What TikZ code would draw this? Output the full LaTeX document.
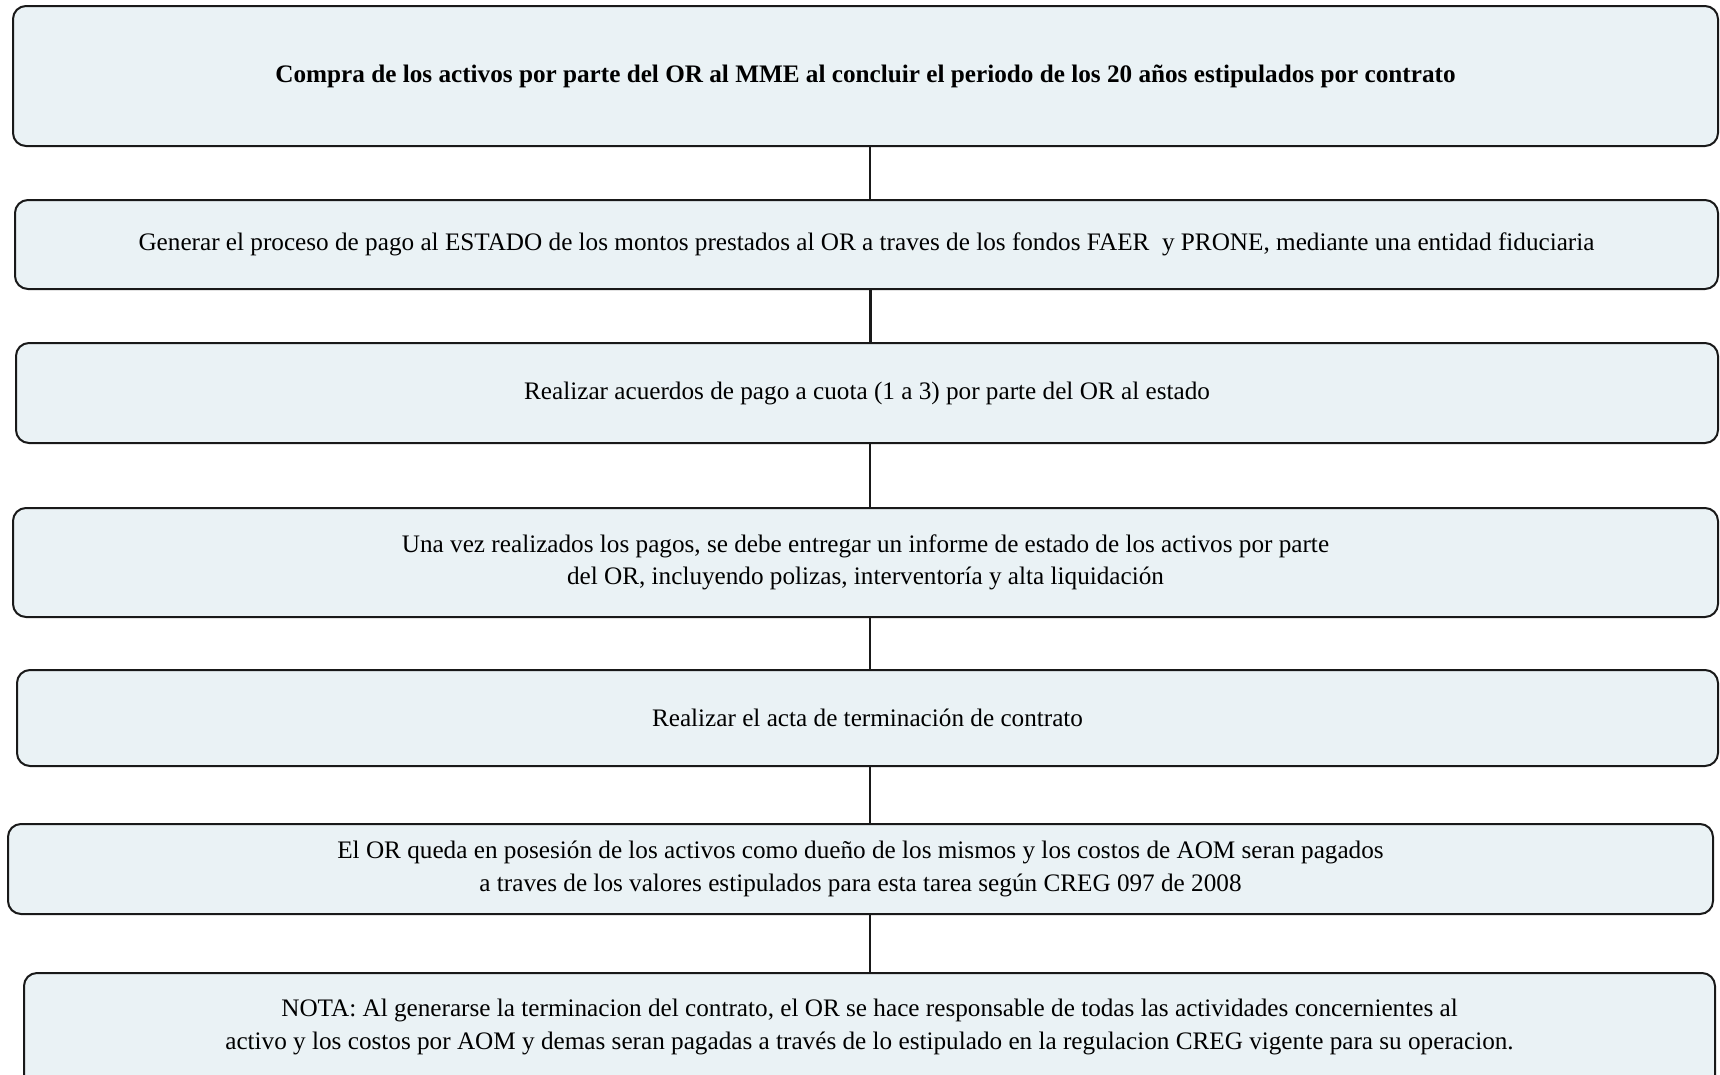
\documentclass[tikz,border=0pt]{standalone}
\usepackage{fontspec}
\setmainfont{Liberation Serif}
\definecolor{boxfill}{RGB}{234,242,245}
\definecolor{edge}{RGB}{25,25,25}
\begin{document}
\begin{tikzpicture}[x=1pt,y=-1pt,
  boxtext/.style={inner sep=0pt,align=center,font=\fontsize{25.2}{32.5}\selectfont},
  flowbox/.style={boxtext,draw=edge,fill=boxfill,line width=2pt,rounded corners=13pt},
  link/.style={draw=edge,line width=1.5pt}]
\clip (0,0) rectangle (1720,1074);
\fill[white] (0,0) rectangle (1720,1074);
\node[flowbox,minimum width=1705pt,minimum height=140pt] (b1) at (865.5,76)
  {\bfseries Compra de los activos por parte del OR al MME al concluir el periodo de los 20 años estipulados por contrato};
\node[flowbox,minimum width=1703pt,minimum height=89pt] (b2) at (866.5,244.5)
  {Generar el proceso de pago al ESTADO de los montos prestados al OR a traves de los fondos FAER\ \ y PRONE, mediante una entidad fiduciaria};
\node[flowbox,minimum width=1702pt,minimum height=100pt] (b3) at (867,393)
  {Realizar acuerdos de pago a cuota (1 a 3) por parte del OR al estado};
\node[flowbox,minimum width=1705pt,minimum height=109pt] (b4) at (865.5,562.5)
  {Una vez realizados los pagos, se debe entregar un informe de estado de los activos por parte\\del OR, incluyendo polizas, interventoría y alta liquidación};
\node[flowbox,minimum width=1701pt,minimum height=96pt] (b5) at (867.5,718)
  {Realizar el acta de terminación de contrato};
\node[flowbox,minimum width=1705pt,minimum height=90pt] (b6) at (860.5,869)
  {El OR queda en posesión de los activos como dueño de los mismos y los costos de AOM seran pagados\\a traves de los valores estipulados para esta tarea según CREG 097 de 2008};
\node[flowbox,minimum width=1691pt,minimum height=156pt] (b7) at (869.5,1051) {};
\node[boxtext] (t7) at (869.5,1027)
  {NOTA: Al generarse la terminacion del contrato, el OR se hace responsable de todas las actividades concernientes al\\activo y los costos por AOM y demas seran pagadas a través de lo estipulado en la regulacion CREG vigente para su operacion.};
\coordinate (cx) at (870,0);
\draw[link] (b1.south -| cx) -- (b2.north -| cx);
\draw[link,line width=3pt] (b2.south -| cx) -- (b3.north -| cx);
\draw[link] (b3.south -| cx) -- (b4.north -| cx);
\draw[link] (b4.south -| cx) -- (b5.north -| cx);
\draw[link] (b5.south -| cx) -- (b6.north -| cx);
\draw[link] (b6.south -| cx) -- (b7.north -| cx);
\end{tikzpicture}
\end{document}
